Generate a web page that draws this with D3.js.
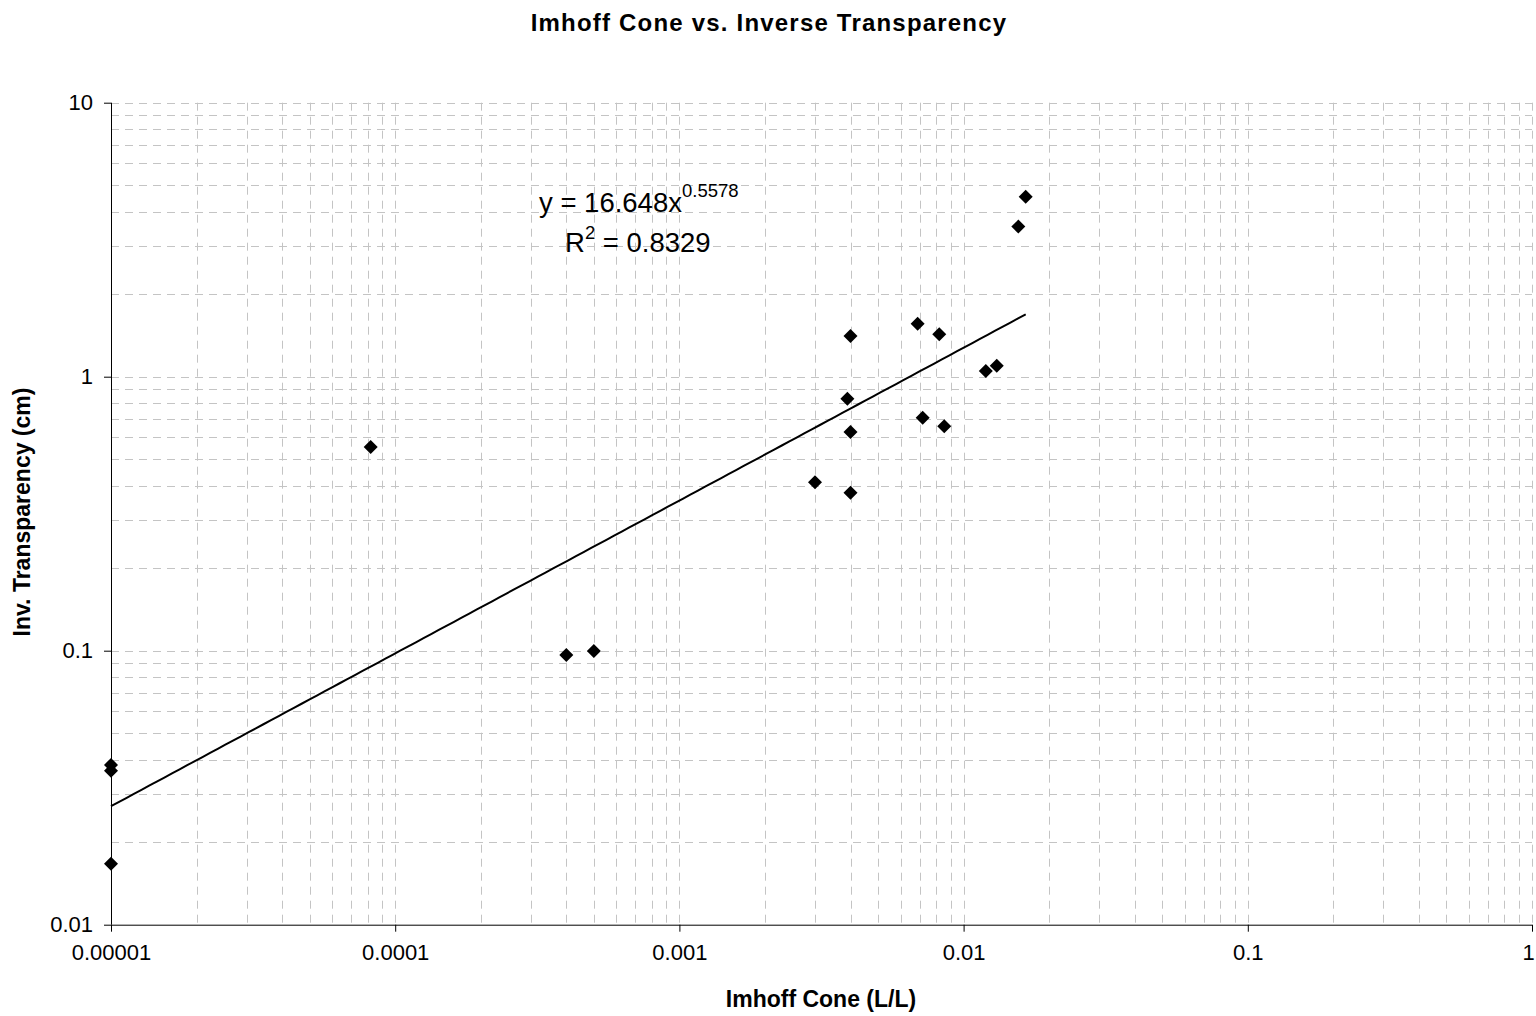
<!DOCTYPE html>
<html>
<head>
<meta charset="utf-8">
<script src="https://cdn.jsdelivr.net/npm/d3@7"></script>
<style>
  html, body { margin: 0; padding: 0; background: #fff; }
  svg { display: block; }
  text { font-family: "Liberation Sans", Arial, sans-serif; fill: #000; }
</style>
</head>
<body>
<svg id="chart" width="1536" height="1016"></svg>
<script>
// ---- data ----
const imhoff = [0.00001, 0.00001, 0.00001, 0.000082, 0.0004, 0.0005, 0.0030, 0.0039, 0.0040, 0.0040, 0.0040, 0.00689, 0.00718, 0.00821, 0.00855, 0.01197, 0.01308, 0.01558, 0.01654];
const invTransparency = [0.0383, 0.0365, 0.0167, 0.554, 0.0964, 0.0997, 0.412, 0.831, 1.408, 0.628, 0.377, 1.561, 0.7085, 1.428, 0.659, 1.049, 1.097, 3.53, 4.54];
const xTickValues = [0.00001, 0.0001, 0.001, 0.01, 0.1, 1];
const xTickLabels = ["0.00001", "0.0001", "0.001", "0.01", "0.1", "1"];
const yTickValues = [0.01, 0.1, 1, 10];
const yTickLabels = ["0.01", "0.1", "1", "10"];
const trendCoef = 16.648;
const trendExp = 0.5578;
const rSquared = "0.8329";

const titleText = "Imhoff Cone vs. Inverse Transparency";
const xTitle = "Imhoff Cone (L/L)";
const yTitle = "Inv. Transparency (cm)";

// ---- layout ----
const svg = d3.select("#chart");
const L = 111, R = 1532, T = 102.7, B = 924.7;
const x = d3.scaleLog().domain([1e-5, 1]).range([L, R]);
const y = d3.scaleLog().domain([0.01, 10]).range([B, T]);

// grid lines (major + minor, dashed)
function gridValues(lo, hi) {
  const out = [];
  for (let e = Math.round(Math.log10(lo)); e <= Math.round(Math.log10(hi)); e++) {
    for (let k = 1; k <= 9; k++) {
      const v = k * Math.pow(10, e);
      if (v >= lo * 0.999999 && v <= hi * 1.000001) out.push(v);
    }
  }
  return out;
}
const grid = svg.append("g").attr("stroke", "#c4c4c4").attr("stroke-width", 1).attr("stroke-dasharray", "8,6");
grid.selectAll("line.v").data(gridValues(1e-5, 1).filter(v => v > 1e-5)).enter().append("line")
  .attr("x1", d => Math.round(x(d)) + 0.5).attr("x2", d => Math.round(x(d)) + 0.5)
  .attr("y1", T).attr("y2", B);
grid.selectAll("line.h").data(gridValues(0.01, 10).filter(v => v > 0.01)).enter().append("line")
  .attr("y1", d => Math.round(y(d)) + 0.5).attr("y2", d => Math.round(y(d)) + 0.5)
  .attr("x1", L).attr("x2", R);

// axes
const xAxis = d3.axisBottom(x).tickValues(xTickValues)
  .tickFormat((d, i) => xTickLabels[i]).tickSize(7).tickPadding(10);
const gx = svg.append("g").attr("transform", `translate(0,${B})`).call(xAxis);
gx.select(".domain").attr("stroke", "#000").attr("d", `M${L},0.5H${R}`);
gx.selectAll(".tick line").attr("stroke", "#000");
gx.selectAll(".tick text").attr("font-size", 22).attr("font-family", "Liberation Sans, Arial, sans-serif").attr("dy", "0.85em")
  .attr("x", (d, i) => i === xTickValues.length - 1 ? -4 : 0);

const yAxis = d3.axisLeft(y).tickValues(yTickValues)
  .tickFormat((d, i) => yTickLabels[i]).tickSize(7).tickPadding(11);
const gy = svg.append("g").attr("transform", `translate(${L},0)`).call(yAxis);
gy.select(".domain").attr("stroke", "#000").attr("d", `M0.5,${T}V${B}`);
gy.selectAll(".tick line").attr("stroke", "#000");
gy.selectAll(".tick text").attr("font-size", 22).attr("font-family", "Liberation Sans, Arial, sans-serif");

// trendline (power fit from displayed equation)
const xMin = d3.min(imhoff), xMax = d3.max(imhoff);
const nSteps = 120;
const trendPts = d3.range(nSteps + 1).map(i => {
  const lx = Math.log10(xMin) + (Math.log10(xMax) - Math.log10(xMin)) * i / nSteps;
  const xv = Math.pow(10, lx);
  return [xv, trendCoef * Math.pow(xv, trendExp)];
});
svg.append("path").datum(trendPts)
  .attr("fill", "none").attr("stroke", "#000").attr("stroke-width", 2)
  .attr("d", d3.line().x(d => x(d[0])).y(d => y(d[1])));

// markers (diamonds)
const pts = imhoff.map((v, i) => ({ x: v, y: invTransparency[i] }));
svg.append("g").selectAll("path").data(pts).enter().append("path")
  .attr("d", d3.symbol().type(d3.symbolSquare).size(98))
  .attr("transform", d => `translate(${x(d.x)},${y(d.y)}) rotate(45)`)
  .attr("fill", "#000");

// equation
const eq = svg.append("text").attr("x", 539).attr("y", 212).attr("font-size", 27.5);
eq.append("tspan").text("y = " + trendCoef + "x");
eq.append("tspan").attr("font-size", 18.5).attr("dy", -15).text(String(trendExp));
const r2 = svg.append("text").attr("x", 565).attr("y", 252).attr("font-size", 27.5);
r2.append("tspan").text("R");
r2.append("tspan").attr("font-size", 18.5).attr("dy", -13).text("2");
r2.append("tspan").attr("dy", 13).text(" = " + rSquared);

// titles
svg.append("text").attr("x", 769).attr("y", 31).attr("text-anchor", "middle")
  .attr("font-size", 24).attr("font-weight", "bold").attr("letter-spacing", "1.2px").text(titleText);
svg.append("text").attr("x", 821).attr("y", 1007).attr("text-anchor", "middle")
  .attr("font-size", 23).attr("font-weight", "bold").text(xTitle);
svg.append("text").attr("transform", "translate(30,512) rotate(-90)").attr("text-anchor", "middle")
  .attr("font-size", 23).attr("font-weight", "bold").text(yTitle);
</script>
</body>
</html>
